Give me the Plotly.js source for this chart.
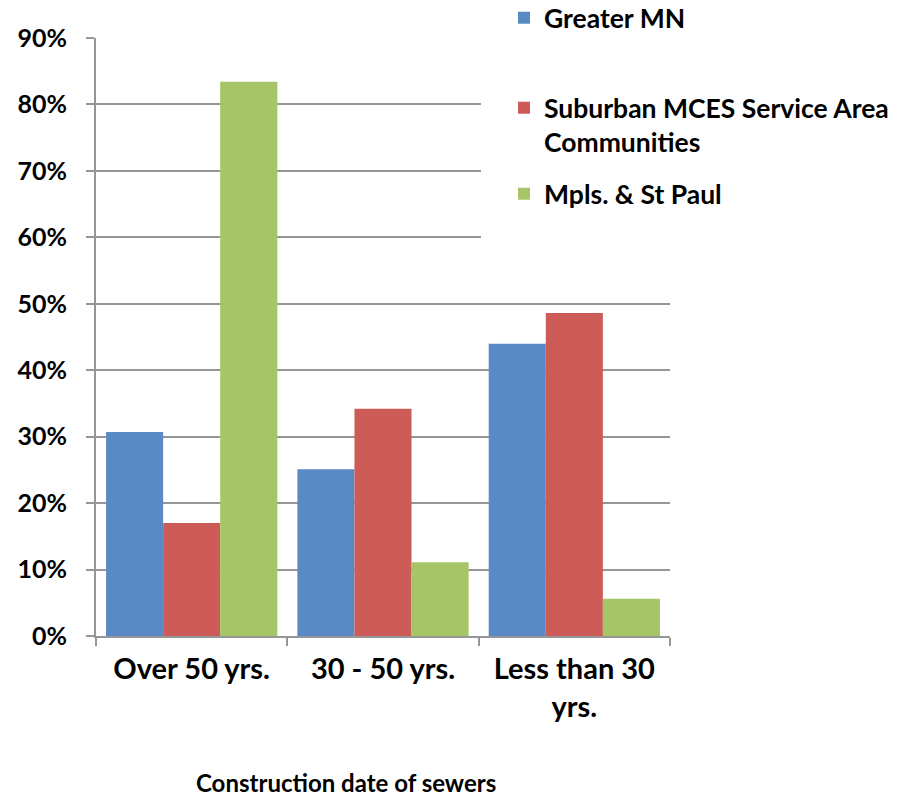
<!DOCTYPE html>
<html>
<head>
<meta charset="utf-8">
<script src="https://cdn.plot.ly/plotly-3.0.1.min.js"></script>
<style>html,body{margin:0;padding:0;background:#fff;}#chart{width:901px;height:797px;}</style>
</head>
<body>
<div id="chart"></div>
<script>
const categories = ["Over 50 yrs.", "30 - 50 yrs.", "Less than 30<br>yrs."];
const seriesNames = ["Greater MN", "Suburban MCES Service Area<br>Communities", "Mpls. & St Paul"];
const greaterMN = [0.307, 0.251, 0.440];
const suburban = [0.170, 0.342, 0.486];
const mplsStPaul = [0.834, 0.111, 0.056];
const colors = ["#5A8AC6", "#CD5B57", "#A6C566"];
const xTitle = "Construction date of sewers";

const FONT = "Lato, 'Open Sans', sans-serif";
const values = [greaterMN, suburban, mplsStPaul];
const legendKeys = ["legend", "legend2", "legend3"];

const traces = values.map((v, i) => ({
  type: "bar",
  x: categories,
  y: v,
  name: seriesNames[i],
  marker: {color: colors[i]},
  legend: legendKeys[i],
  hoverinfo: "skip"
}));

const px2x = px => (px - 96) / 574;
const py2y = py => (636 - py) / 598;

function legendAt(cy) {
  return {
    xref: "container", yref: "container",
    x: 504 / 901, xanchor: "left",
    y: 1 - cy / 797, yanchor: "middle",
    bgcolor: "rgba(0,0,0,0)",
    font: {family: FONT, size: 26.5, color: "#000", weight: 700},
    valign: "top",
    itemwidth: 30
  };
}

const layout = {
  width: 901, height: 797,
  margin: {l: 96, r: 231, t: 38, b: 161, autoexpand: false},
  paper_bgcolor: "#fff", plot_bgcolor: "#fff",
  barmode: "group",
  bargap: 0.105,
  bargroupgap: 0,
  showlegend: true,
  legend: legendAt(18),
  legend2: legendAt(125),
  legend3: legendAt(194),
  xaxis: {
    type: "category",
    showgrid: false,
    showline: true, linecolor: "#969696", linewidth: 2,
    ticks: "outside", tickson: "boundaries", ticklen: 8, tickcolor: "#969696", tickwidth: 2,
    tickfont: {family: FONT, size: 29, color: "#000", weight: 700},
    ticklabelstandoff: 6,
    zeroline: false, fixedrange: true
  },
  yaxis: {
    range: [0, 0.9], dtick: 0.1, tick0: 0, tickformat: ".0%",
    showgrid: true, gridcolor: "#969696", gridwidth: 2,
    showline: true, linecolor: "#969696", linewidth: 2,
    ticks: "outside", ticklen: 8, tickcolor: "#969696", tickwidth: 2,
    tickfont: {family: FONT, size: 25, color: "#000", weight: 700},
    ticklabelstandoff: 14,
    zeroline: false, fixedrange: true
  },
  shapes: [{
    type: "rect", xref: "paper", yref: "paper",
    x0: px2x(481), x1: 1.01, y0: py2y(272), y1: 1.02,
    fillcolor: "#fff", line: {width: 0}, layer: "above"
  }],
  annotations: [{
    text: xTitle, xref: "paper", yref: "paper",
    x: px2x(346), y: py2y(782), xanchor: "center", yanchor: "middle",
    showarrow: false,
    font: {family: FONT, size: 24, color: "#000", weight: 700}
  }]
};

Plotly.newPlot("chart", traces, layout, {displayModeBar: false, staticPlot: true});
</script>
</body>
</html>
